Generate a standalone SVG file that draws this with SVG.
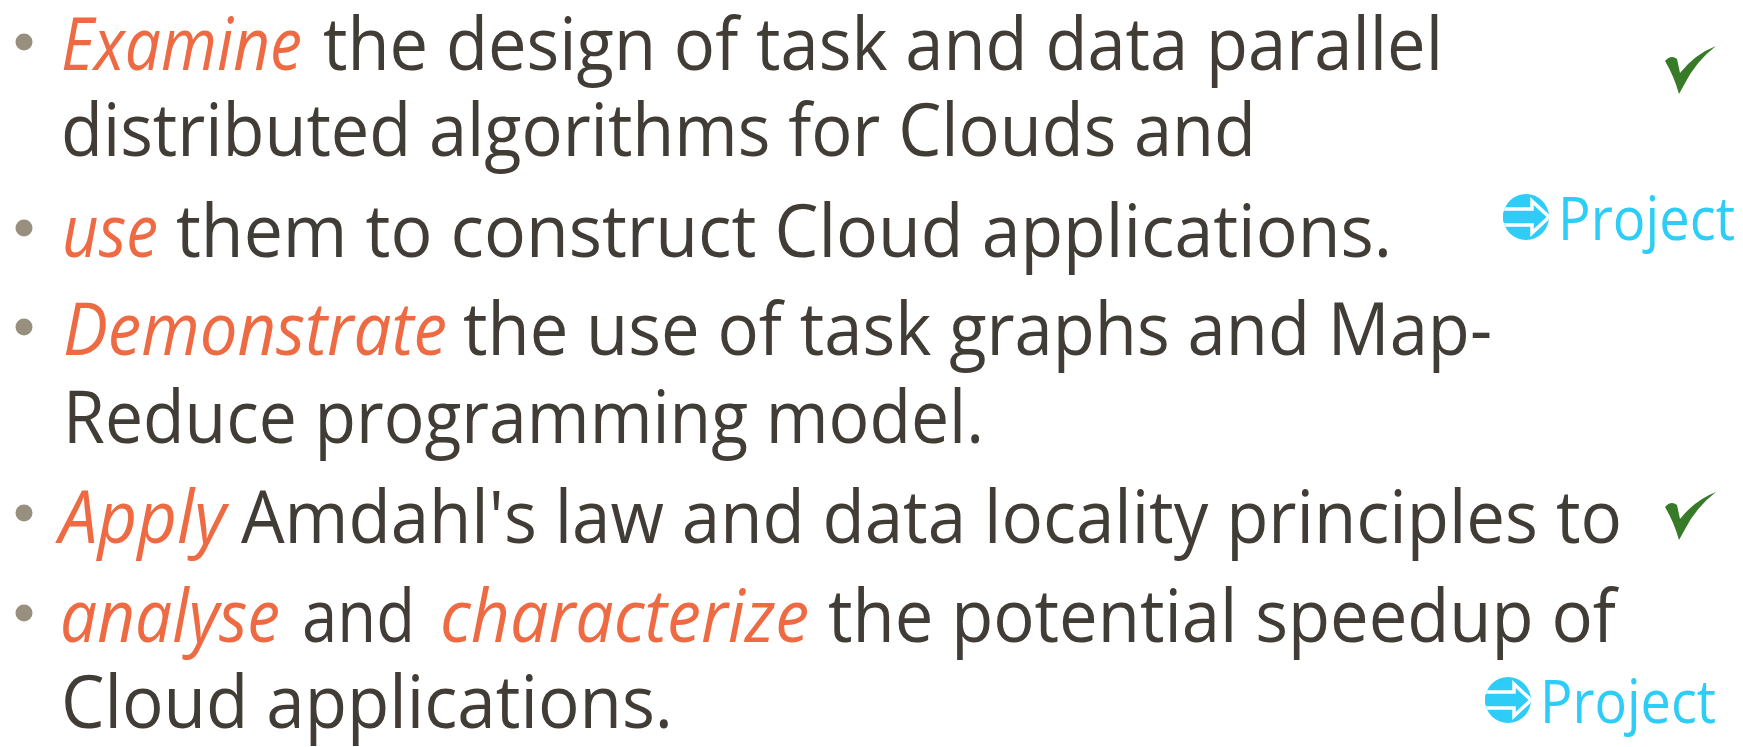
<svg xmlns="http://www.w3.org/2000/svg" width="1743" height="747" viewBox="0 0 1743 747">
  <style>
    .body { font-family: "Open Sans", "Noto Sans", sans-serif; font-size: 73px; fill: #413C35; }
    .em { font-style: italic; fill: #EE6A42; }
    .bullet { fill: #988F7E; }
    .check { fill: #377A27; }
    .proj { font-family: "Open Sans", "Noto Sans", sans-serif; font-size: 60px; fill: #2DCDF8; }
    .projdisc { fill: #2DCDF8; }
    .projarrow { fill: #2DCDF8; stroke: #FFFFFF; stroke-width: 3.5; stroke-linejoin: miter; }
  </style>
  <defs>
    <!-- circled-arrow badge, centred on the origin -->
    <clipPath id="discClip"><circle cx="0" cy="0" r="23"/></clipPath>
    <g id="projBadge">
      <circle class="projdisc" cx="0" cy="0" r="23"/>
      <g clip-path="url(#discClip)">
        <path class="projarrow" d="M -30 -8 L 6 -8 L 6 -16 L 23 0 L 6 16 L 6 8 L -30 8 Z"/>
      </g>
    </g>
    <!-- tick mark, 51 x 47 box -->
    <path id="tick" d="M 0 15 Q 6 8 12 13 L 15 27 Q 30 8 51 0 Q 31 15 19 39 L 14 48 Q 9 30 0 15 Z"/>
  </defs>

  <rect width="1743" height="747" fill="#FFFFFF"/>

  <!-- item 1 -->
  <g id="item-examine">
    <circle class="bullet" cx="24" cy="42" r="8.5"/>
    <text class="body em" x="61" y="70" textLength="241" lengthAdjust="spacingAndGlyphs">Examine</text>
    <text class="body" x="323" y="70" textLength="1120" lengthAdjust="spacingAndGlyphs">the design of task and data parallel</text>
    <text class="body" x="61" y="156" textLength="1195" lengthAdjust="spacingAndGlyphs">distributed algorithms for Clouds and</text>
  </g>

  <!-- item 2 -->
  <g id="item-use">
    <circle class="bullet" cx="24" cy="228" r="8.5"/>
    <text class="body em" x="62" y="257" textLength="96" lengthAdjust="spacingAndGlyphs">use</text>
    <text class="body" x="176" y="257" textLength="1216" lengthAdjust="spacingAndGlyphs">them to construct Cloud applications.</text>
  </g>

  <!-- item 3 -->
  <g id="item-demonstrate">
    <circle class="bullet" cx="24" cy="327" r="8.5"/>
    <text class="body em" x="63" y="355" textLength="384" lengthAdjust="spacingAndGlyphs">Demonstrate</text>
    <text class="body" x="463" y="355" textLength="1029" lengthAdjust="spacingAndGlyphs">the use of task graphs and Map-</text>
    <text class="body" x="63" y="443" textLength="921" lengthAdjust="spacingAndGlyphs">Reduce programming model.</text>
  </g>

  <!-- item 4 -->
  <g id="item-apply">
    <circle class="bullet" cx="24" cy="513" r="8.5"/>
    <text class="body em" x="59" y="543" textLength="167" lengthAdjust="spacingAndGlyphs">Apply</text>
    <text class="body" x="241" y="543" textLength="1381" lengthAdjust="spacingAndGlyphs">Amdahl's law and data locality principles to</text>
  </g>

  <!-- item 5 -->
  <g id="item-analyse">
    <circle class="bullet" cx="24" cy="613" r="8.5"/>
    <text class="body em" x="60" y="642" textLength="220" lengthAdjust="spacingAndGlyphs">analyse</text>
    <text class="body" x="302" y="642" textLength="113" lengthAdjust="spacingAndGlyphs">and</text>
    <text class="body em" x="440" y="642" textLength="369" lengthAdjust="spacingAndGlyphs">characterize</text>
    <text class="body" x="828" y="642" textLength="788" lengthAdjust="spacingAndGlyphs">the potential speedup of</text>
    <text class="body" x="61" y="728" textLength="612" lengthAdjust="spacingAndGlyphs">Cloud applications.</text>
  </g>

  <!-- status marks -->
  <g id="tick-1">
    <use href="#tick" class="check" transform="translate(1665,46)"/>
  </g>
  <g id="tick-2">
    <use href="#tick" class="check" transform="translate(1665,492)"/>
  </g>

  <g id="project-1">
    <use href="#projBadge" transform="translate(1526,217)"/>
    <text class="proj" x="1558" y="240" textLength="177" lengthAdjust="spacingAndGlyphs">Project</text>
  </g>
  <g id="project-2">
    <use href="#projBadge" transform="translate(1508,700)"/>
    <text class="proj" x="1540" y="723" textLength="176" lengthAdjust="spacingAndGlyphs">Project</text>
  </g>
</svg>
